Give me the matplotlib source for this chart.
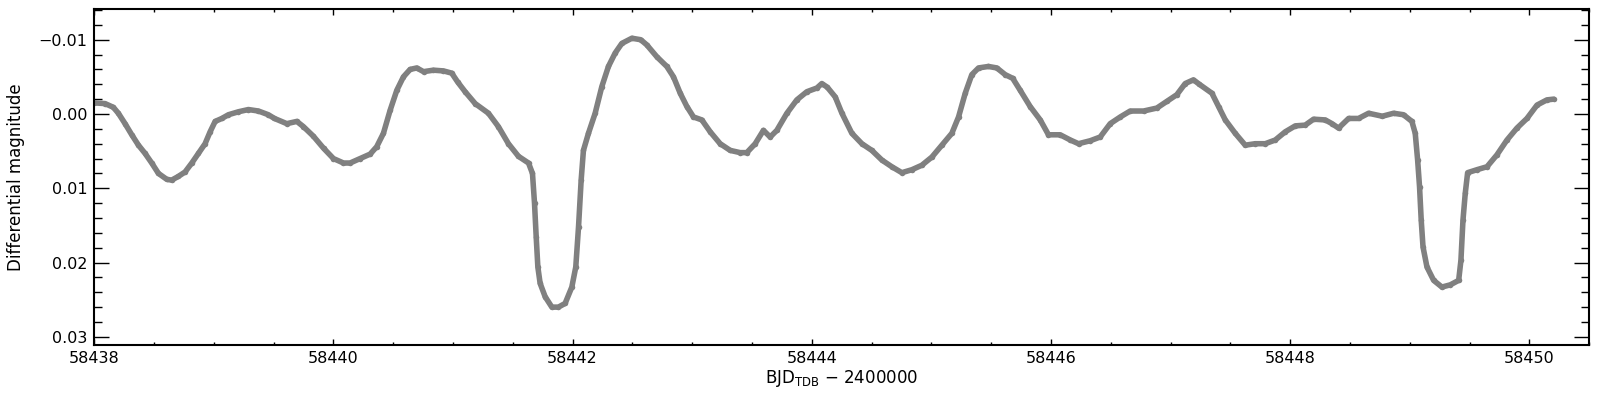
import numpy as np
import matplotlib
matplotlib.use("Agg")
import matplotlib.pyplot as plt
from matplotlib.ticker import MultipleLocator, FormatStrFormatter, FuncFormatter

# light curve (days after BJD 58438, differential mag)
t0 = 58438.0
dt = [0.000, 0.092, 0.161, 0.203, 0.259, 0.315, 0.371, 0.426, 0.482, 0.538,
      0.608, 0.649, 0.705, 0.761, 0.817, 0.872, 0.928, 0.970, 1.012, 1.068,
      1.123, 1.207, 1.290, 1.374, 1.457, 1.508, 1.611, 1.695, 1.750, 1.834,
      1.918, 2.001, 2.085, 2.140, 2.224, 2.308, 2.363, 2.419, 2.475, 2.531,
      2.586, 2.642, 2.698, 2.754, 2.837, 2.921, 2.990, 3.040, 3.102, 3.186,
      3.297, 3.380, 3.464, 3.548, 3.632, 3.665, 3.682, 3.696, 3.710, 3.729,
      3.771, 3.827, 3.882, 3.938, 3.994, 4.027, 4.050, 4.072, 4.091, 4.133,
      4.189, 4.245, 4.300, 4.356, 4.412, 4.496, 4.570, 4.621, 4.705, 4.788,
      4.844, 4.900, 4.956, 5.011, 5.081, 5.151, 5.234, 5.318, 5.401, 5.457,
      5.527, 5.596, 5.652, 5.708, 5.792, 5.875, 5.959, 6.043, 6.084, 6.130,
      6.196, 6.252, 6.335, 6.419, 6.502, 6.586, 6.669, 6.753, 6.837, 6.920,
      7.004, 7.088, 7.171, 7.227, 7.283, 7.338, 7.394, 7.477, 7.547, 7.617,
      7.680, 7.742, 7.826, 7.910, 7.979, 8.077, 8.161, 8.230, 8.328, 8.411,
      8.495, 8.579, 8.662, 8.774, 8.885, 8.969, 9.052, 9.122, 9.191, 9.240,
      9.345, 9.401, 9.457, 9.540, 9.624, 9.707, 9.791, 9.875, 9.958, 10.042,
      10.125, 10.195, 10.293, 10.349, 10.404, 10.488, 10.571, 10.655, 10.770, 10.864,
      10.947, 11.017, 11.045, 11.065, 11.081, 11.095, 11.110, 11.143, 11.199, 11.268,
      11.338, 11.408, 11.427, 11.444, 11.463, 11.483, 11.561, 11.645, 11.728, 11.812,
      11.895, 11.979, 12.063, 12.146, 12.202]
dmag = [-0.0015, -0.0014, -0.0009, -0.0001, 0.0013, 0.0028, 0.0042, 0.0053, 0.0066, 0.0080,
        0.0088, 0.0089, 0.0084, 0.0078, 0.0066, 0.0053, 0.0040, 0.0024, 0.0010, 0.0006,
        0.0001, -0.0003, -0.0006, -0.0004, 0.0001, 0.0006, 0.0013, 0.0010, 0.0017, 0.0030,
        0.0046, 0.0060, 0.0066, 0.0066, 0.0060, 0.0054, 0.0044, 0.0026, -0.0005, -0.0032,
        -0.0050, -0.0060, -0.0062, -0.0057, -0.0059, -0.0058, -0.0055, -0.0043, -0.0030, -0.0014,
        -0.0001, 0.0017, 0.0040, 0.0057, 0.0066, 0.0080, 0.0120, 0.0165, 0.0206, 0.0228,
        0.0246, 0.0260, 0.0260, 0.0255, 0.0233, 0.0206, 0.0152, 0.0089, 0.0049, 0.0026,
        -0.0001, -0.0037, -0.0064, -0.0082, -0.0095, -0.0102, -0.0100, -0.0093, -0.0077, -0.0064,
        -0.0050, -0.0028, -0.0010, 0.0004, 0.0008, 0.0024, 0.0040, 0.0049, 0.0052, 0.0052,
        0.0040, 0.0022, 0.0031, 0.0022, -0.0001, -0.0019, -0.0030, -0.0035, -0.0041, -0.0036,
        -0.0023, -0.0001, 0.0026, 0.0040, 0.0049, 0.0062, 0.0071, 0.0079, 0.0075, 0.0069,
        0.0058, 0.0042, 0.0026, 0.0004, -0.0028, -0.0053, -0.0062, -0.0064, -0.0062, -0.0053,
        -0.0048, -0.0032, -0.0010, 0.0008, 0.0028, 0.0028, 0.0035, 0.0040, 0.0036, 0.0031,
        0.0013, 0.0004, -0.0004, -0.0004, -0.0008, -0.0017, -0.0026, -0.0041, -0.0046, -0.0040,
        -0.0028, -0.0010, 0.0008, 0.0026, 0.0042, 0.0040, 0.0040, 0.0035, 0.0024, 0.0016,
        0.0015, 0.0007, 0.0008, 0.0013, 0.0019, 0.0006, 0.0006, -0.0001, 0.0003, -0.0001,
        0.0001, 0.0010, 0.0026, 0.0062, 0.0098, 0.0143, 0.0179, 0.0206, 0.0224, 0.0233,
        0.0230, 0.0224, 0.0197, 0.0143, 0.0107, 0.0079, 0.0075, 0.0071, 0.0055, 0.0035,
        0.0019, 0.0006, -0.0012, -0.0019, -0.0020]

xlims = (58438.0, 58450.5)
ylims = (0.0311, -0.0142)

bjd = t0 + np.array(dt)

plt.rcParams['font.family'] = 'DejaVu Sans'
plt.rcParams['font.size'] = 11.5

fig = plt.figure(figsize=(16, 4), dpi=100)
ax = fig.add_axes([0.0588, 0.1375, 0.9345, 0.8412])

ax.plot(bjd, dmag, color='#808080', lw=4.0, solid_capstyle='round',
        solid_joinstyle='round')
ax.plot(bjd, dmag, 'o', color='#808080', ms=4, mew=0)

ax.set_xlim(*xlims)
ax.set_ylim(*ylims)

ax.xaxis.set_major_locator(MultipleLocator(2))
ax.xaxis.set_minor_locator(MultipleLocator(0.5))
ax.yaxis.set_major_locator(MultipleLocator(0.01))
ax.yaxis.set_minor_locator(MultipleLocator(0.002))
ax.xaxis.set_major_formatter(FormatStrFormatter('%d'))
ax.yaxis.set_major_formatter(FuncFormatter(lambda v, p: ('%.2f' % v).replace('-', '\u2212')))

ax.tick_params(axis='both', which='both', direction='in', top=True, right=True,
               width=1.0, color='black')
ax.tick_params(axis='x', which='major', length=4.5, pad=4)
ax.tick_params(axis='x', which='minor', length=2.5)
ax.tick_params(axis='y', which='major', length=11, pad=5)
ax.tick_params(axis='y', which='minor', length=5.5)

for s in ax.spines.values():
    s.set_linewidth(1.5)

ax.set_xlabel(r'BJD$_{\mathrm{TDB}}$ $-$ 2400000', labelpad=2, fontsize=12)
ax.set_ylabel('Differential magnitude', fontsize=12)
ax.yaxis.set_label_coords(-0.046, 0.5)

fig.savefig('out.png', dpi=100)
